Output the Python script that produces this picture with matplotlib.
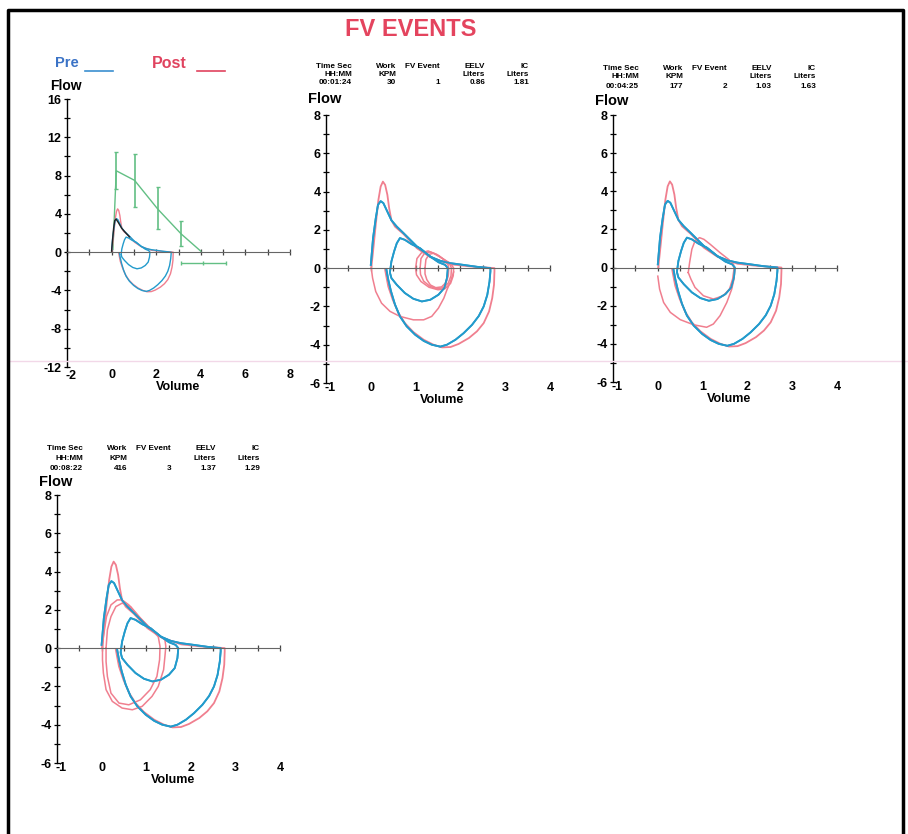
import matplotlib
matplotlib.use("Agg")
import matplotlib.pyplot as plt
import matplotlib.transforms as mtransforms
from matplotlib.ticker import MultipleLocator
from matplotlib.lines import Line2D

plt.rcParams['font.family'] = ['Liberation Sans', 'DejaVu Sans']
plt.rcParams['font.weight'] = 'bold'
plt.rcParams['axes.unicode_minus'] = False

# ---------------- data ----------------
TITLE = "FV EVENTS"

# maximal flow-volume loop, pre (blue) and post (red)
MAX_PRE_V = [0.0, 0.05, 0.11, 0.16, 0.22, 0.28, 0.35, 0.46, 0.58, 0.73, 0.88, 1.03, 1.18, 1.33, 1.55,
             1.78, 2.07, 2.37, 2.67, 2.67, 2.65, 2.60, 2.52, 2.41, 2.26, 2.07, 1.89, 1.70, 1.55, 1.36,
             1.18, 0.99, 0.80, 0.65, 0.54, 0.45, 0.39, 0.35]
MAX_PRE_F = [0.17, 1.57, 2.6, 3.3, 3.5, 3.4, 3.05, 2.5, 2.17, 1.83, 1.48, 1.13, 0.87, 0.6, 0.38,
             0.26, 0.17, 0.07, 0.0, -0.17, -0.7, -1.4, -2.0, -2.5, -2.96, -3.4, -3.74, -4.0, -4.1, -4.0,
             -3.8, -3.48, -3.04, -2.52, -1.9, -1.2, -0.6, -0.09]
MAX_POST_V = [0.01, 0.05, 0.11, 0.17, 0.22, 0.27, 0.32, 0.37, 0.41, 0.46, 0.54, 0.73, 1.03, 1.33, 1.78,
              2.22, 2.60, 2.76, 2.76, 2.75, 2.71, 2.64, 2.52, 2.37, 2.19, 1.96, 1.78, 1.59, 1.40, 1.18,
              0.95, 0.76, 0.61, 0.49, 0.39, 0.34, 0.32]
MAX_POST_F = [0.0, 0.87, 2.26, 3.57, 4.26, 4.52, 4.35, 3.83, 3.13, 2.5, 2.17, 1.78, 1.04, 0.57, 0.2,
              0.09, 0.03, 0.0, -0.17, -0.87, -1.57, -2.26, -2.87, -3.3, -3.65, -3.96, -4.12, -4.14, -4.0, -3.74,
              -3.34, -2.87, -2.31, -1.65, -0.96, -0.35, -0.09]

# baseline tidal loop (pre, blue)
TID_PRE_V = [0.43, 0.46, 0.52, 0.58, 0.65, 0.76, 0.91, 1.10, 1.33, 1.51, 1.66, 1.72, 1.70, 1.64, 1.51,
             1.33, 1.14, 0.95, 0.76, 0.58, 0.46, 0.43]
TID_PRE_F = [-0.17, 0.35, 0.87, 1.3, 1.57, 1.48, 1.25, 1.04, 0.6, 0.31, 0.17, 0.0, -0.52, -1.04, -1.39,
             -1.65, -1.74, -1.6, -1.3, -0.87, -0.52, -0.26]

# predicted max flow (green) with error bars, panel 1
PRED_V = [0.06, 0.21, 1.03, 2.07, 3.12, 4.0]
PRED_F = [0.3, 8.5, 7.5, 4.5, 1.9, 0.1]
ERR_V = [0.21, 1.03, 2.07, 3.12]
ERR_MID = [8.5, 7.5, 4.5, 1.9]
ERR_LO = [6.6, 4.7, 2.4, 0.65]
ERR_HI = [10.5, 10.3, 6.8, 3.3]
HBAR_V, HBAR_F, HBAR_LO, HBAR_HI = 4.09, -1.1, 3.12, 5.13

# black exercise trace, panel 1
BLACK_V = [0.0, 0.04, 0.09, 0.14, 0.2, 0.3, 0.45, 0.6, 0.8]
BLACK_F = [0.1, 1.2, 2.5, 3.3, 3.45, 3.1, 2.5, 2.1, 1.6]

# event 1 (post loops, red)
E1_BIG_V = [0.01, 0.04, 0.11, 0.24, 0.43, 0.65, 0.95, 1.18, 1.36, 1.51, 1.63, 1.70, 1.78, 1.85]
E1_BIG_F = [0.0, -0.52, -1.22, -1.83, -2.26, -2.52, -2.7, -2.7, -2.52, -2.09, -1.57, -1.13, -0.7, -0.2]
E1_LA_V = [1.0, 1.03, 1.13, 1.28, 1.42, 1.6, 1.78, 1.85, 1.84, 1.78, 1.65, 1.5, 1.3, 1.12, 1.02, 1.0]
E1_LA_F = [0.0, 0.5, 0.8, 0.9, 0.75, 0.5, 0.25, 0.0, -0.4, -0.8, -1.08, -1.13, -1.0, -0.7, -0.35, 0.0]
E1_LB_V = [1.1, 1.12, 1.2, 1.33, 1.47, 1.62, 1.76, 1.8, 1.79, 1.73, 1.62, 1.48, 1.32, 1.18, 1.11, 1.1]
E1_LB_F = [0.0, 0.5, 0.78, 0.85, 0.72, 0.47, 0.22, 0.0, -0.4, -0.78, -1.02, -1.08, -0.95, -0.68, -0.33, 0.0]
E1_LC_V = [1.21, 1.23, 1.3, 1.4, 1.52, 1.65, 1.72, 1.74, 1.73, 1.68, 1.58, 1.45, 1.33, 1.25, 1.21, 1.21]
E1_LC_F = [0.0, 0.45, 0.72, 0.78, 0.65, 0.42, 0.2, 0.0, -0.4, -0.75, -0.98, -1.02, -0.88, -0.6, -0.3, 0.0]

# event 2 (post loops, red)
E2_BIG_V = [0.0, 0.04, 0.13, 0.28, 0.5, 0.8, 1.09, 1.24, 1.39, 1.54, 1.65, 1.70, 1.72]
E2_BIG_F = [-0.45, -1.13, -1.83, -2.35, -2.73, -3.0, -3.13, -2.96, -2.52, -1.83, -1.13, -0.6, -0.09]
E2_L_V = [0.68, 0.71, 0.76, 0.83, 0.93, 1.03, 1.17, 1.39, 1.58, 1.69, 1.70, 1.67, 1.60, 1.46, 1.24,
          1.02, 0.83, 0.74, 0.68]
E2_L_F = [-0.26, 0.26, 0.96, 1.39, 1.57, 1.48, 1.22, 0.78, 0.43, 0.17, -0.09, -0.6, -1.13, -1.48, -1.65,
          -1.48, -1.04, -0.61, -0.26]

# event 3 (post loops, red)
E3_LA_V = [0.02, 0.04, 0.11, 0.21, 0.35, 0.46, 0.61, 0.83, 1.05, 1.27, 1.42, 1.44, 1.42, 1.39, 1.27,
           1.13, 0.91, 0.69, 0.46, 0.24, 0.10, 0.04, 0.02, 0.02]
E3_LA_F = [0.0, 0.6, 1.65, 2.26, 2.52, 2.52, 2.26, 1.65, 1.13, 0.7, 0.43, 0.09, -0.43, -1.13, -2.0,
           -2.52, -3.04, -3.22, -3.13, -2.78, -2.17, -1.3, -0.61, 0.0]
E3_LB_V = [0.10, 0.13, 0.21, 0.32, 0.46, 0.65, 0.87, 1.09, 1.27, 1.31, 1.30, 1.24, 1.09, 0.87, 0.61,
           0.39, 0.21, 0.13, 0.10, 0.10]
E3_LB_F = [0.0, 0.96, 1.65, 2.17, 2.35, 2.17, 1.57, 1.04, 0.6, 0.09, -0.61, -1.48, -2.17, -2.7, -2.96,
           -2.87, -2.35, -1.48, -0.7, 0.0]

HEAD_ROW1 = ["Time Sec", "Work", "FV Event", "EELV", "IC"]
HEAD_ROW2 = ["HH:MM", "KPM", "", "Liters", "Liters"]
EVENT_VALUES = [
    ["00:01:24", "30", "1", "0.86", "1.81"],
    ["00:04:25", "177", "2", "1.03", "1.63"],
    ["00:08:22", "416", "3", "1.37", "1.29"],
]

P1_XTICKS = [-2, 0, 2, 4, 6, 8]
P1_YTICKS = [16, 12, 8, 4, 0, -4, -8, -12]
PN_XTICKS = [-1, 0, 1, 2, 3, 4]
PN_YTICKS = [8, 6, 4, 2, 0, -2, -4, -6]

# ---------------- styling ----------------
BLUE = "#239bcc"
RED = "#f07f8f"
GREEN = "#62bf84"
W, H = 908, 834
fig = plt.figure(figsize=(W / 100, H / 100), dpi=100)


def box(l, t, r, b):
    return [l / W, 1 - b / H, (r - l) / W, (b - t) / H]


def setup(ax, xticks, yticks, xminor, yminor, label_offsets, label_dx, vol_x, vol_dy):
    ax.set_xlim(xticks[0], xticks[-1])
    ax.set_ylim(min(yticks), max(yticks))
    ax.patch.set_visible(False)
    for s in ['top', 'right']:
        ax.spines[s].set_visible(False)
    ax.spines['bottom'].set_position(('data', 0))
    ax.spines['bottom'].set_color('#666666')
    ax.spines['left'].set_linewidth(1.0)
    ax.xaxis.set_major_locator(MultipleLocator(xminor))
    ax.tick_params(axis='x', direction='inout', length=4, width=0.9, color='#444444', labelbottom=False)
    ax.set_yticks(yticks)
    ax.yaxis.set_minor_locator(MultipleLocator(yminor))
    ax.tick_params(axis='y', which='both', direction='inout', length=4, width=0.9, pad=2,
                   labelsize=9)
    trans = mtransforms.blended_transform_factory(ax.transData, ax.transAxes)
    for v, dy, dx in zip(xticks, label_offsets, label_dx):
        ax.annotate(str(v), (v, 0), xycoords=trans, xytext=(dx, -dy), textcoords='offset pixels',
                    ha='center', va='center', fontsize=9, fontweight='bold')
    ax.annotate("Volume", (vol_x, 0), xycoords=trans, xytext=(0, -vol_dy), textcoords='offset pixels',
                ha='center', va='center', fontsize=9, fontweight='bold')


def header(ax, values, dys):
    cols = [26, 70, 114, 159, 203]
    rows = [HEAD_ROW1, HEAD_ROW2, values]
    for row, dy in zip(rows, dys[:3]):
        for txt, dx in zip(row, cols):
            ax.annotate(txt, (0, 1), xycoords='axes fraction', xytext=(dx, dy),
                        textcoords='offset pixels', ha='right', va='center', fontsize=5.9,
                        fontweight='bold')
    ax.annotate("Flow", (0, 1), xycoords='axes fraction', xytext=(-18, dys[3]),
                textcoords='offset pixels', ha='left', va='center', fontsize=10.5, fontweight='bold')


def draw_max(ax, lw):
    ax.plot(MAX_POST_V, MAX_POST_F, color=RED, lw=lw)
    ax.plot(MAX_PRE_V, MAX_PRE_F, color=BLUE, lw=lw)
    ax.plot(TID_PRE_V, TID_PRE_F, color=BLUE, lw=lw)


PN_LABEL_DY = [5, 5, 5, 5, 5, 5]
PN_LABEL_DX = [4, 0, 0, 0, 0, 0]

# Panel 1
ax1 = fig.add_axes(box(67, 99, 290, 367))
setup(ax1, P1_XTICKS, P1_YTICKS, 1, 2, [9, 8, 8, 8, 8, 8], [4, 0, 0, 0, 0, 0], 3, 20)
ax1.plot(PRED_V, PRED_F, color=GREEN, lw=1)
ax1.errorbar(ERR_V, ERR_MID, yerr=[[m - lo for m, lo in zip(ERR_MID, ERR_LO)],
                                    [hi - m for m, hi in zip(ERR_MID, ERR_HI)]],
             fmt='none', ecolor=GREEN, elinewidth=1.2, capsize=1.5)
ax1.errorbar([HBAR_V], [HBAR_F], xerr=[[HBAR_V - HBAR_LO], [HBAR_HI - HBAR_V]], fmt='none',
             ecolor=GREEN, elinewidth=1, capsize=1.5)
ax1.plot([HBAR_V], [HBAR_F], marker='|', color=GREEN, ms=3)
ax1.plot(MAX_POST_V, MAX_POST_F, color=RED, lw=1.0)
ax1.plot(MAX_PRE_V, MAX_PRE_F, color=BLUE, lw=1.0)
ax1.plot(TID_PRE_V, TID_PRE_F, color=BLUE, lw=1.0)
ax1.plot(BLACK_V, BLACK_F, color='#222222', lw=1.0)
ax1.annotate("Flow", (0, 1), xycoords='axes fraction', xytext=(-17, 13), textcoords='offset pixels',
             ha='left', va='center', fontsize=10, fontweight='bold')

# Panel 2
ax2 = fig.add_axes(box(326, 115, 550, 383))
setup(ax2, PN_XTICKS, PN_YTICKS, 0.5, 1, PN_LABEL_DY, PN_LABEL_DX, 1.6, 17)
draw_max(ax2, 1.3)
for v, f in [(E1_BIG_V, E1_BIG_F), (E1_LA_V, E1_LA_F), (E1_LB_V, E1_LB_F), (E1_LC_V, E1_LC_F)]:
    ax2.plot(v, f, color=RED, lw=1.1)
ax2.plot(MAX_PRE_V, MAX_PRE_F, color=BLUE, lw=1.3)
ax2.plot(TID_PRE_V, TID_PRE_F, color=BLUE, lw=1.3)
header(ax2, EVENT_VALUES[0], [49, 41, 32, 16])

# Panel 3
ax3 = fig.add_axes(box(613, 115, 837, 382))
setup(ax3, PN_XTICKS, PN_YTICKS, 0.5, 1, PN_LABEL_DY, PN_LABEL_DX, 1.6, 17)
draw_max(ax3, 1.3)
for v, f in [(E2_BIG_V, E2_BIG_F), (E2_L_V, E2_L_F)]:
    ax3.plot(v, f, color=RED, lw=1.1)
ax3.plot(MAX_PRE_V, MAX_PRE_F, color=BLUE, lw=1.3)
ax3.plot(TID_PRE_V, TID_PRE_F, color=BLUE, lw=1.3)
header(ax3, EVENT_VALUES[1], [46, 38, 29, 14])

# Panel 4
ax4 = fig.add_axes(box(57, 495, 280, 763))
setup(ax4, PN_XTICKS, PN_YTICKS, 0.5, 1, PN_LABEL_DY, PN_LABEL_DX, 1.6, 17)
draw_max(ax4, 1.3)
for v, f in [(E3_LA_V, E3_LA_F), (E3_LB_V, E3_LB_F)]:
    ax4.plot(v, f, color=RED, lw=1.1)
ax4.plot(MAX_PRE_V, MAX_PRE_F, color=BLUE, lw=1.3)
ax4.plot(TID_PRE_V, TID_PRE_F, color=BLUE, lw=1.3)
header(ax4, EVENT_VALUES[2], [46, 37, 27, 13])

# Figure-level decorations
fig.text(411 / W, 1 - 29 / H, TITLE, ha='center', va='center', fontsize=17, fontweight='bold',
         color='#e4445e')
fig.text(55 / W, 1 - 63 / H, "Pre", ha='left', va='center', fontsize=10.5, fontweight='bold',
         color='#3b73c6')
fig.text(152 / W, 1 - 63 / H, "Post", ha='left', va='center', fontsize=11.5, fontweight='bold',
         color='#e0435f')
fig.add_artist(Line2D([85 / W, 113 / W], [1 - 71 / H] * 2, color='#3b8fd0', lw=1.2))
fig.add_artist(Line2D([197 / W, 225 / W], [1 - 71 / H] * 2, color='#e0435f', lw=1.2))
fig.add_artist(Line2D([8 / W, 908 / W], [1 - 361 / H] * 2, color='#f2d8e8', lw=1))
fig.add_artist(Line2D([8 / W, 8 / W, 903 / W, 903 / W], [0, 1 - 10 / H, 1 - 10 / H, 0],
                      color='black', lw=2.5))

fig.savefig("out.png", dpi=100)
